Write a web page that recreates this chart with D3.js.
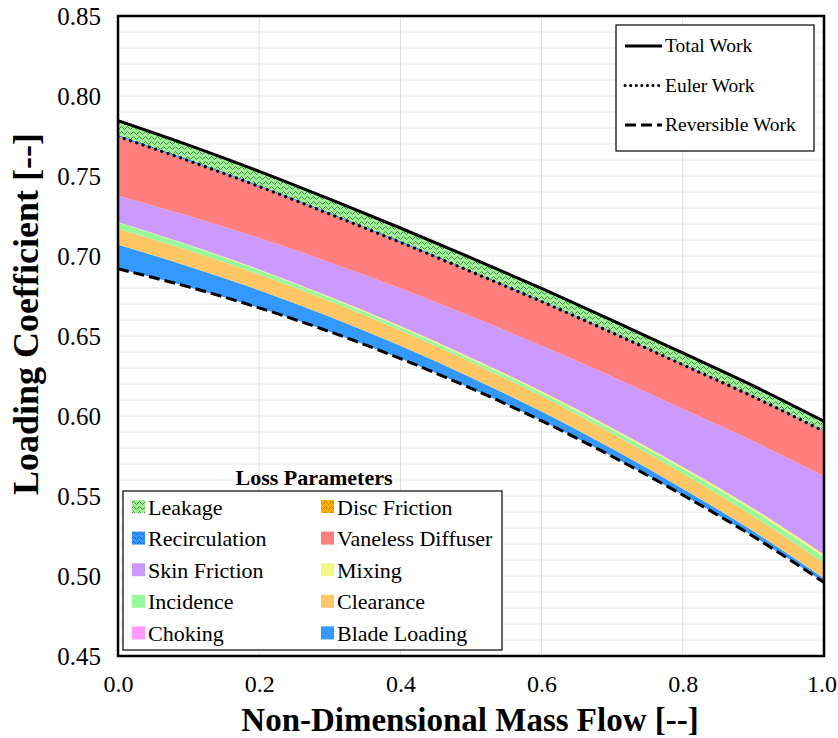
<!DOCTYPE html>
<html>
<head>
<meta charset="utf-8">
<script src="https://cdn.jsdelivr.net/npm/d3@7/dist/d3.min.js"></script>
<style>
  html, body { margin: 0; padding: 0; background: #fff; }
</style>
</head>
<body>
<svg id="chart" width="838" height="738"></svg>
<script>
// Non-dimensional mass flow sample points
const massFlow = [0, 0.1, 0.2, 0.3, 0.4, 0.5, 0.6, 0.7, 0.8, 0.9, 1.0];

// Reversible work (loading coefficient)
const reversibleWork = [0.692, 0.6807, 0.6676, 0.6527, 0.6359, 0.6173, 0.5970, 0.5747, 0.5506, 0.5247, 0.4960];

// Internal losses (loading-coefficient increments)
const bladeLoading = [0.0150, 0.0128, 0.0110, 0.0093, 0.0080, 0.0068, 0.0058, 0.0048, 0.0040, 0.0032, 0.0025];
const clearance    = [0.0100, 0.0099, 0.0098, 0.0097, 0.0096, 0.0095, 0.0095, 0.0094, 0.0094, 0.0094, 0.0094];
const incidence    = [0.0040, 0.0033, 0.0027, 0.0022, 0.0019, 0.0019, 0.0021, 0.0025, 0.0030, 0.0035, 0.0040];
const mixing       = [0.0002, 0.0003, 0.0005, 0.0006, 0.0008, 0.0009, 0.0010, 0.0011, 0.0012, 0.0014, 0.0015];
const skinFriction = [0.0165, 0.0180, 0.0196, 0.0215, 0.0235, 0.0258, 0.0285, 0.0320, 0.0362, 0.0420, 0.0490];
const choking      = [0, 0, 0, 0, 0, 0, 0, 0, 0, 0, 0];
const vaneless     = [0.0370, 0.0345, 0.0322, 0.0302, 0.0288, 0.0280, 0.0276, 0.0275, 0.0276, 0.0278, 0.0280];

// Parasitic losses
const recirculation = [0.0009, 0.0009, 0.0008, 0.0008, 0.0008, 0.0008, 0.0007, 0.0007, 0.0007, 0.0006, 0.0006];
const discFriction  = [0.0002, 0.0002, 0.0002, 0.0002, 0.0002, 0.0002, 0.0002, 0.0002, 0.0002, 0.0002, 0.0002];
const leakage       = [0.0088, 0.0087, 0.0085, 0.0083, 0.0080, 0.0077, 0.0073, 0.0069, 0.0065, 0.0060, 0.0055];

const xTicks = [0, 0.2, 0.4, 0.6, 0.8, 1.0];
const yTicks = [0.45, 0.50, 0.55, 0.60, 0.65, 0.70, 0.75, 0.80, 0.85];

// Layer definitions, bottom to top
const layers = [
  { key: "Blade Loading",     values: bladeLoading,  color: "#3399ff" },
  { key: "Clearance",         values: clearance,     color: "#ffc666" },
  { key: "Incidence",         values: incidence,     color: "#99f899" },
  { key: "Mixing",            values: mixing,        color: "#f2f884" },
  { key: "Skin Friction",     values: skinFriction,  color: "#cc99ff" },
  { key: "Choking",           values: choking,       color: "#ff99ff" },
  { key: "Vaneless Diffuser", values: vaneless,      color: "#ff7f7f" },
  { key: "Recirculation",     values: recirculation, color: "#3399ff", hatch: "#1a5fb0" },
  { key: "Disc Friction",     values: discFriction,  color: "#ffb000", hatch: "#c07a00" },
  { key: "Leakage",           values: leakage,       color: "#a3ee9a", hatch: "#2f8a2f" }
];

const legendOrder = [
  ["Leakage", "Disc Friction"],
  ["Recirculation", "Vaneless Diffuser"],
  ["Skin Friction", "Mixing"],
  ["Incidence", "Clearance"],
  ["Choking", "Blade Loading"]
];

const FONT = "'Liberation Serif', 'Times New Roman', Times, 'DejaVu Serif', serif";

const svg = d3.select("#chart");
const plot = { left: 118, right: 824, top: 16, bottom: 656 };

const x = d3.scaleLinear().domain([0, 1]).range([plot.left, plot.right]);
const y = d3.scaleLinear().domain([0.45, 0.85]).range([plot.bottom, plot.top]);

// Hatch patterns for parasitic losses
const defs = svg.append("defs");
layers.filter(l => l.hatch).forEach((l, i) => {
  const p = defs.append("pattern")
    .attr("id", "hatch" + i)
    .attr("patternUnits", "userSpaceOnUse")
    .attr("width", 6).attr("height", 5);
  p.append("rect").attr("width", 6).attr("height", 5).attr("fill", l.color);
  p.append("path")
    .attr("d", "M0,3 L1.5,1.5 L4.5,4.5 L6,3")
    .attr("fill", "none").attr("stroke", l.hatch).attr("stroke-width", 0.9);
  l.fill = "url(#hatch" + i + ")";
});
layers.forEach(l => { if (!l.fill) l.fill = l.color; });

defs.append("clipPath").attr("id", "plotClip")
  .append("rect")
  .attr("x", plot.left).attr("y", plot.top)
  .attr("width", plot.right - plot.left).attr("height", plot.bottom - plot.top);

// Grid
const grid = svg.append("g");
grid.selectAll("line.h")
  .data(d3.range(45, 86).map(v => v / 100))
  .join("line")
  .attr("x1", plot.left).attr("x2", plot.right)
  .attr("y1", d => y(d)).attr("y2", d => y(d))
  .attr("stroke", "#e6e6e6").attr("stroke-width", 1);
grid.selectAll("line.v")
  .data(xTicks.slice(1, -1))
  .join("line")
  .attr("x1", d => x(d)).attr("x2", d => x(d))
  .attr("y1", plot.top).attr("y2", plot.bottom)
  .attr("stroke", "#dcdcdc").attr("stroke-width", 1);

// Stacked loss bands on top of the reversible work
const rows = massFlow.map((m, i) => {
  const r = { m, base: reversibleWork[i] };
  layers.forEach(l => { r[l.key] = l.values[i]; });
  return r;
});
const keys = ["base"].concat(layers.map(l => l.key));
const series = d3.stack().keys(keys)(rows);

const area = d3.area()
  .x(d => x(d.data.m))
  .y0(d => y(d[0]))
  .y1(d => y(d[1]))
  .curve(d3.curveMonotoneX);

const bands = svg.append("g").attr("clip-path", "url(#plotClip)");
series.slice(1).forEach((s, i) => {
  bands.append("path")
    .datum(s)
    .attr("d", area)
    .attr("fill", layers[i].fill)
    .attr("stroke", "none");
});

// Work lines
const internalCount = 7;
const eulerWork = massFlow.map((m, i) => series[internalCount][i][1]);
const totalWork = massFlow.map((m, i) => series[series.length - 1][i][1]);

const line = d3.line()
  .x((d, i) => x(massFlow[i]))
  .y(d => y(d))
  .curve(d3.curveMonotoneX);

const lines = svg.append("g").attr("clip-path", "url(#plotClip)");
lines.append("path").datum(totalWork).attr("d", line)
  .attr("fill", "none").attr("stroke", "#000").attr("stroke-width", 3);
lines.append("path").datum(eulerWork).attr("d", line)
  .attr("fill", "none").attr("stroke", "#000").attr("stroke-width", 3.2)
  .attr("stroke-linecap", "round").attr("stroke-dasharray", "0.1 6.5");
lines.append("path").datum(reversibleWork).attr("d", line)
  .attr("fill", "none").attr("stroke", "#000").attr("stroke-width", 3)
  .attr("stroke-dasharray", "11 5");

// Plot frame
svg.append("rect")
  .attr("x", plot.left).attr("y", plot.top)
  .attr("width", plot.right - plot.left).attr("height", plot.bottom - plot.top)
  .attr("fill", "none").attr("stroke", "#000").attr("stroke-width", 2.5);

// Axes
const xAxis = svg.append("g")
  .attr("transform", `translate(0,${plot.bottom})`)
  .call(d3.axisBottom(x).tickValues(xTicks).tickFormat(d3.format(".1f")).tickSize(0).tickPadding(19));
xAxis.attr("font-family", null).attr("font-size", null);
xAxis.select(".domain").remove();
xAxis.selectAll("text").attr("font-family", FONT).attr("font-size", 24).attr("fill", "#000");
xAxis.selectAll(".tick").filter(d => d === 1).select("text").attr("text-anchor", "end").attr("x", 837);
xAxis.selectAll(".tick").filter(d => d === 1).attr("transform", `translate(0,0)`);

const yAxis = svg.append("g")
  .attr("transform", `translate(${plot.left},0)`)
  .call(d3.axisLeft(y).tickValues(yTicks).tickFormat(d3.format(".2f")).tickSize(0).tickPadding(17));
yAxis.attr("font-family", null).attr("font-size", null);
yAxis.select(".domain").remove();
yAxis.selectAll("text").attr("font-family", FONT).attr("font-size", 25).attr("fill", "#000");

svg.append("text")
  .attr("x", 470).attr("y", 731)
  .attr("text-anchor", "middle")
  .attr("font-family", FONT).attr("font-size", 33).attr("font-weight", "bold")
  .text("Non-Dimensional Mass Flow [--]");

svg.append("text")
  .attr("transform", `translate(38,314) rotate(-90)`)
  .attr("text-anchor", "middle")
  .attr("font-family", FONT).attr("font-size", 36).attr("font-weight", "bold")
  .text("Loading Coefficient [--]");

// Work legend (top right)
const wl = svg.append("g");
wl.append("rect").attr("x", 616).attr("y", 25).attr("width", 198).attr("height", 126)
  .attr("fill", "#fff").attr("stroke", "#000").attr("stroke-width", 1.2);
const workItems = [
  { label: "Total Work", dash: null, cap: "butt", w: 3 },
  { label: "Euler Work", dash: "0.1 5.5", cap: "round", w: 3 },
  { label: "Reversible Work", dash: "11 5", cap: "butt", w: 3 }
];
workItems.forEach((it, i) => {
  const yy = 46 + i * 39.5;
  const ln = wl.append("line").attr("x1", 625).attr("x2", 662).attr("y1", yy).attr("y2", yy)
    .attr("stroke", "#000").attr("stroke-width", it.w).attr("stroke-linecap", it.cap);
  if (it.dash) ln.attr("stroke-dasharray", it.dash);
  wl.append("text").attr("x", 665).attr("y", yy + 6)
    .attr("font-family", FONT).attr("font-size", 19.5).text(it.label);
});

// Loss legend (bottom left)
const ll = svg.append("g");
ll.append("text").attr("x", 314).attr("y", 485).attr("text-anchor", "middle")
  .attr("font-family", FONT).attr("font-size", 22).attr("font-weight", "bold")
  .text("Loss Parameters");
ll.append("rect").attr("x", 123).attr("y", 491).attr("width", 379).attr("height", 159)
  .attr("fill", "#fff").attr("stroke", "#000").attr("stroke-width", 1.2);
const byKey = {};
layers.forEach(l => { byKey[l.key] = l; });
legendOrder.forEach((row, r) => {
  row.forEach((k, c) => {
    const sx = c === 0 ? 132 : 321;
    const yy = 507 + r * 31.6;
    ll.append("rect").attr("x", sx).attr("y", yy - 7).attr("width", 13).attr("height", 13)
      .attr("fill", byKey[k].fill);
    ll.append("text").attr("x", sx + 16).attr("y", yy + 7.5)
      .attr("font-family", FONT).attr("font-size", 22).text(k);
  });
});
</script>
</body>
</html>
